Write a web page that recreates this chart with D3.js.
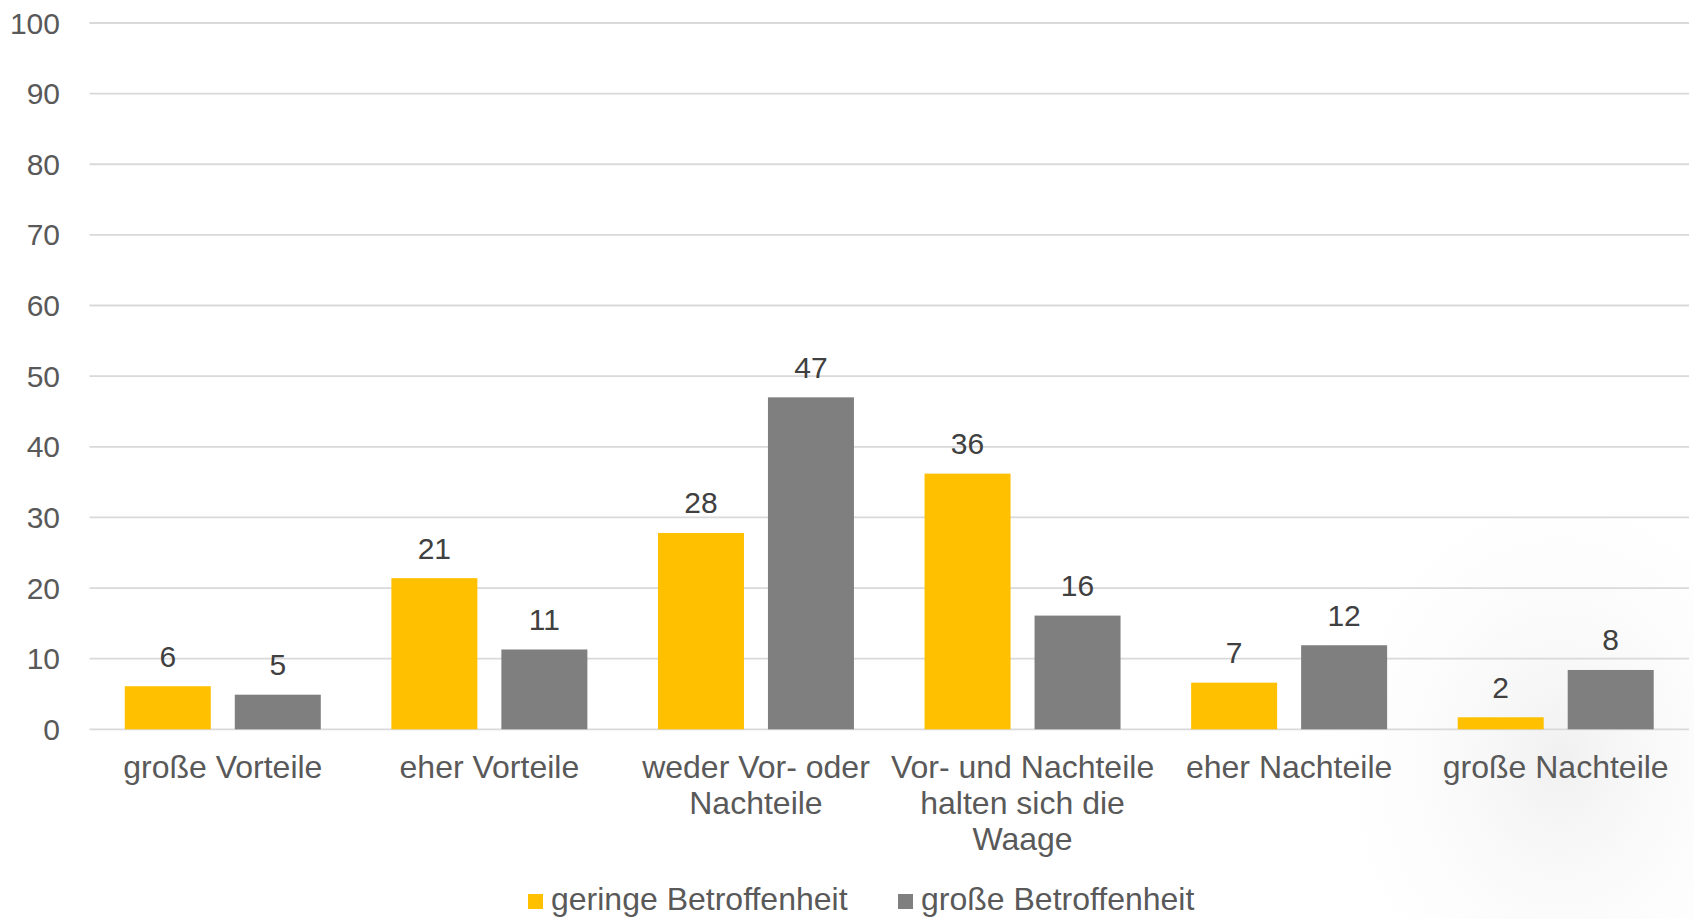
<!DOCTYPE html>
<html>
<head>
<meta charset="utf-8">
<script src="https://cdn.jsdelivr.net/npm/d3@7"></script>
<style>
    body { margin: 0; background: #ffffff; }
    svg { display: block; font-family: "Liberation Sans", Arial, sans-serif; }
</style>
</head>
<body>
<svg id="chart" width="1694" height="919"></svg>
<script>
// Kategorien (Zeilenumbrüche wie im Original)
const categories = [
    ["große Vorteile"],
    ["eher Vorteile"],
    ["weder Vor- oder", "Nachteile"],
    ["Vor- und Nachteile", "halten sich die", "Waage"],
    ["eher Nachteile"],
    ["große Nachteile"]
];
const seriesNames = ["geringe Betroffenheit", "große Betroffenheit"];
const seriesColors = ["#FFC000", "#7F7F7F"];
const geringValues = [6.1, 21.4, 27.8, 36.2, 6.6, 1.7];
const grossValues = [4.9, 11.3, 47.0, 16.1, 11.9, 8.4];
const yTicks = [0, 10, 20, 30, 40, 50, 60, 70, 80, 90, 100];

const svg = d3.select("#chart");

// faint background picture in the lower right
const defs = svg.append("defs");
const grad = defs.append("radialGradient").attr("id", "bgfade");
grad.append("stop").attr("offset", "0%").attr("stop-color", "#e4e4e4").attr("stop-opacity", 0.55);
grad.append("stop").attr("offset", "100%").attr("stop-color", "#ffffff").attr("stop-opacity", 0);
svg.append("ellipse")
    .attr("cx", 1560).attr("cy", 760)
    .attr("rx", 260).attr("ry", 320)
    .attr("fill", "url(#bgfade)");

const margin = { top: 23, right: 5, bottom: 190, left: 89.5 };
const width = 1694 - margin.left - margin.right;
const height = 729.3 - margin.top;

const g = svg.append("g").attr("transform", `translate(${margin.left},${margin.top})`);

const y = d3.scaleLinear().domain([0, 100]).range([height, 0]);
const x0 = d3.scaleBand().domain(d3.range(categories.length)).range([0, width]);

// bar width 86, gap 24 within a group
const step = 110;
const pi = 24 / step;
const po = (x0.bandwidth() / step - 2 + pi) / 2;
const x1 = d3.scaleBand().domain([0, 1]).range([0, x0.bandwidth()])
    .paddingInner(pi).paddingOuter(po);

// gridlines
g.selectAll(".grid")
    .data(yTicks)
    .enter().append("line")
    .attr("x1", 0).attr("x2", width)
    .attr("y1", d => y(d)).attr("y2", d => y(d))
    .attr("stroke", "#d9d9d9")
    .attr("stroke-width", 1.8);

// y axis labels
g.selectAll(".ylabel")
    .data(yTicks)
    .enter().append("text")
    .attr("x", 60 - margin.left)
    .attr("y", d => y(d))
    .attr("dy", "0.35em")
    .attr("text-anchor", "end")
    .attr("fill", "#595959")
    .style("font-size", "30px")
    .text(d => d);

const rows = categories.map((c, i) => ({ i: i, values: [geringValues[i], grossValues[i]] }));

const groups = g.selectAll(".group")
    .data(rows)
    .enter().append("g")
    .attr("transform", d => `translate(${x0(d.i)},0)`);

groups.selectAll("rect")
    .data(d => d.values.map((v, s) => ({ s: s, v: v })))
    .enter().append("rect")
    .attr("x", d => x1(d.s))
    .attr("width", x1.bandwidth())
    .attr("y", d => y(d.v))
    .attr("height", d => y(0) - y(d.v))
    .attr("fill", d => seriesColors[d.s]);

groups.selectAll(".val")
    .data(d => d.values.map((v, s) => ({ s: s, v: v })))
    .enter().append("text")
    .attr("x", d => x1(d.s) + x1.bandwidth() / 2)
    .attr("y", d => y(d.v) - 19.5)
    .attr("text-anchor", "middle")
    .attr("fill", "#404040")
    .style("font-size", "30px")
    .text(d => d3.format(".0f")(d.v));

// category labels
const catText = g.selectAll(".cat")
    .data(categories)
    .enter().append("text")
    .attr("text-anchor", "middle")
    .attr("fill", "#595959")
    .style("font-size", "32px")
    .attr("transform", (d, i) => `translate(${x0(i) + x0.bandwidth() / 2},${height + 48.5})`);

catText.selectAll("tspan")
    .data(d => d)
    .enter().append("tspan")
    .attr("x", 0)
    .attr("y", (d, i) => i * 36)
    .text(d => d);

// legend
const legend = svg.append("g").attr("transform", "translate(528,910)");
const legendX = [0, 370];
seriesNames.forEach((name, i) => {
    legend.append("rect")
        .attr("x", legendX[i]).attr("y", -16)
        .attr("width", 15).attr("height", 15)
        .attr("fill", seriesColors[i]);
    legend.append("text")
        .attr("x", legendX[i] + 23)
        .attr("y", 0)
        .attr("fill", "#595959")
        .style("font-size", "32px")
        .text(name);
});
</script>
</body>
</html>
